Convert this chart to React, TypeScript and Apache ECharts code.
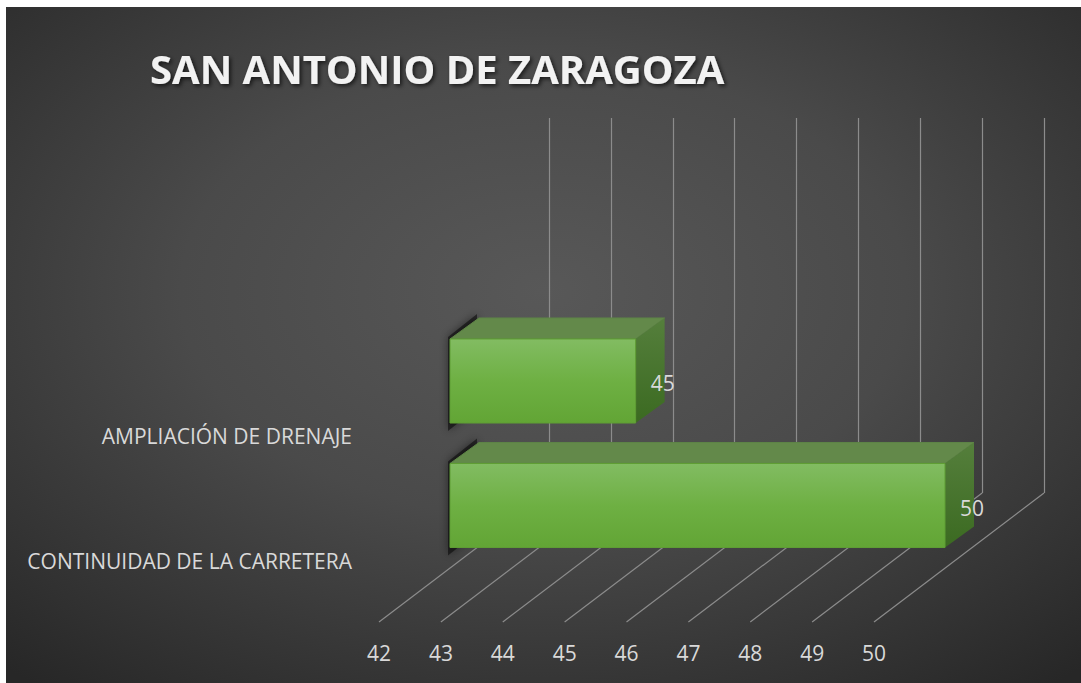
import React, { useEffect, useRef } from "react";
import * as echarts from "echarts";

const titleText = "SAN ANTONIO DE ZARAGOZA";
const categories = ["CONTINUIDAD DE LA CARRETERA", "AMPLIACIÓN DE DRENAJE"];
const values = [50, 45];
const axisMin = 42;
const axisMax = 50;
const tickValues = [42, 43, 44, 45, 46, 47, 48, 49, 50];

const W = 1081;
const H = 683;
const BACK_LEFT = 549;
const FLOOR_LEFT = 379;
const SPAN = 495;
const BACK_TOP = 118;
const BACK_BOTTOM = 493;
const FLOOR_BOTTOM = 622;
const BAR_LEFT = 450;
const BAR_TOP = 318.75;
const BAR_H = 249;
const LABEL_SHIFT = 55;
const DEPTH_X = 29;
const DEPTH_Y = -21;
const FONT = "'Open Sans', 'Noto Sans', sans-serif";
const TEXT_COLOR = "#d9d9d9";

export default function App() {
  const ref = useRef<HTMLDivElement>(null);
  useEffect(() => {
    if (!ref.current) return;
    const chart = echarts.init(ref.current, null, { renderer: "svg" });
    const barData = values.map((v, i) => [v, i]);
    const option: any = {
      animation: false,
      backgroundColor: "transparent",
      title: {
        text: titleText,
        left: 145,
        top: 43,
        textStyle: {
          fontFamily: FONT,
          fontSize: 40,
          fontWeight: "bold",
          color: "#f2f2f2",
          textShadowColor: "rgba(0,0,0,0.65)",
          textShadowBlur: 4,
          textShadowOffsetX: 2,
          textShadowOffsetY: 2,
        },
      },
      graphic: [
        {
          type: "rect",
          z: -100,
          silent: true,
          shape: { x: 6, y: 7, width: W - 6, height: H - 7 },
          style: {
            fill: {
              type: "radial",
              x: 0.5,
              y: 0.42,
              r: 0.75,
              colorStops: [
                { offset: 0, color: "#585858" },
                { offset: 0.45, color: "#4a4a4a" },
                { offset: 1, color: "#272727" },
              ],
            },
          },
        },
      ],
      grid: [
        { left: BACK_LEFT, top: BACK_TOP, width: SPAN, height: BACK_BOTTOM - BACK_TOP },
        { left: FLOOR_LEFT, top: BACK_BOTTOM, width: SPAN, height: FLOOR_BOTTOM - BACK_BOTTOM },
        { left: BAR_LEFT, top: BAR_TOP, width: SPAN, height: BAR_H },
        { left: 360, top: BAR_TOP + LABEL_SHIFT, width: SPAN, height: BAR_H },
      ],
      xAxis: [
        {
          gridIndex: 0,
          type: "value",
          min: axisMin,
          max: axisMax,
          interval: 1,
          axisLine: { show: false },
          axisTick: { show: false },
          axisLabel: { show: false },
          splitLine: { show: true, lineStyle: { color: "#8c8c8c", width: 1.2 } },
        },
        {
          gridIndex: 1,
          type: "value",
          min: axisMin,
          max: axisMax,
          interval: 1,
          axisLine: { show: false },
          axisTick: { show: false },
          splitLine: { show: false },
          axisLabel: { color: TEXT_COLOR, fontSize: 21, fontFamily: FONT, margin: 20 },
        },
        {
          gridIndex: 2,
          type: "value",
          min: axisMin,
          max: axisMax,
          interval: 1,
          show: false,
        },
        {
          gridIndex: 3,
          type: "value",
          min: axisMin,
          max: axisMax,
          show: false,
        },
      ],
      yAxis: [
        { gridIndex: 0, type: "value", min: 0, max: 1, show: false },
        { gridIndex: 1, type: "value", min: 0, max: 1, show: false },
        { gridIndex: 2, type: "category", data: categories, show: false },
        {
          gridIndex: 3,
          type: "category",
          data: categories,
          axisLine: { show: false },
          axisTick: { show: false },
          axisLabel: { color: TEXT_COLOR, fontSize: 21, fontFamily: FONT, margin: 8 },
        },
      ],
      series: [
        {
          type: "custom",
          xAxisIndex: 1,
          yAxisIndex: 1,
          z: 1,
          silent: true,
          data: tickValues.map((v) => [v, 0]),
          encode: { x: 0, y: 1 },
          renderItem: (params: any, api: any) => {
            const v = api.value(0);
            const p = api.coord([v, 0]);
            const q = api.coord([v, 1]);
            return {
              type: "line",
              shape: { x1: p[0], y1: p[1], x2: p[0] + (BACK_LEFT - FLOOR_LEFT), y2: q[1] },
              style: { stroke: "#8c8c8c", lineWidth: 1.2 },
            };
          },
        },
        {
          type: "custom",
          xAxisIndex: 2,
          yAxisIndex: 2,
          z: 5,
          silent: true,
          data: barData,
          encode: { x: 0, y: 1 },
          renderItem: (params: any, api: any) => {
            const v = api.value(0);
            const c = api.value(1);
            const p0 = api.coord([axisMin, c]);
            const p1 = api.coord([v, c]);
            const bh = api.size([0, 1])[1] * 0.675;
            const x0 = p0[0];
            const x1 = p1[0];
            const yT = p0[1] - bh / 2;
            const yB = p0[1] + bh / 2;
            return {
              type: "group",
              children: [
                {
                  type: "polygon",
                  shape: {
                    points: [
                      [x0 - 2, yT - 2],
                      [x0 - 2 + DEPTH_X, yT - 4 + DEPTH_Y],
                      [x0 - 2 + DEPTH_X, yB + 6 + DEPTH_Y],
                      [x0 - 2, yB + 8],
                    ],
                  },
                  style: {
                    fill: "rgba(0,0,0,0.5)",
                    shadowBlur: 9,
                    shadowColor: "rgba(0,0,0,0.9)",
                  },
                },
                {
                  type: "polygon",
                  shape: {
                    points: [
                      [x0, yT],
                      [x0 + DEPTH_X, yT + DEPTH_Y],
                      [x1 + DEPTH_X, yT + DEPTH_Y],
                      [x1, yT],
                    ],
                  },
                  style: { fill: "#63894a", stroke: "#5e8446", lineWidth: 1 },
                },
                {
                  type: "polygon",
                  shape: {
                    points: [
                      [x1, yT],
                      [x1 + DEPTH_X, yT + DEPTH_Y],
                      [x1 + DEPTH_X, yB + DEPTH_Y],
                      [x1, yB],
                    ],
                  },
                  style: {
                    fill: {
                      type: "linear",
                      x: 0,
                      y: 0,
                      x2: 0,
                      y2: 1,
                      colorStops: [
                        { offset: 0, color: "#557f3c" },
                        { offset: 1, color: "#3b6a21" },
                      ],
                    },
                  },
                },
                {
                  type: "rect",
                  shape: { x: x0, y: yT, width: x1 - x0, height: bh },
                  style: {
                    fill: {
                      type: "linear",
                      x: 0,
                      y: 0,
                      x2: 0,
                      y2: 1,
                      colorStops: [
                        { offset: 0, color: "#82bc62" },
                        { offset: 0.5, color: "#6eb043" },
                        { offset: 1, color: "#62a535" },
                      ],
                    },
                    stroke: "#5f9e34",
                    lineWidth: 1,
                  },
                },
                {
                  type: "text",
                  style: {
                    x: x1 + 15,
                    y: p0[1] + 2,
                    text: String(v),
                    fill: TEXT_COLOR,
                    fontSize: 21,
                    fontFamily: FONT,
                    align: "left",
                    verticalAlign: "middle",
                  },
                },
              ],
            };
          },
        },
      ],
    };
    chart.setOption(option);
    return () => chart.dispose();
  }, []);
  return (
    <div
      style={{ position: "fixed", left: 0, top: 0, width: W, height: H, background: "#ffffff" }}
    >
      <div ref={ref} style={{ width: W, height: H }} />
    </div>
  );
}
